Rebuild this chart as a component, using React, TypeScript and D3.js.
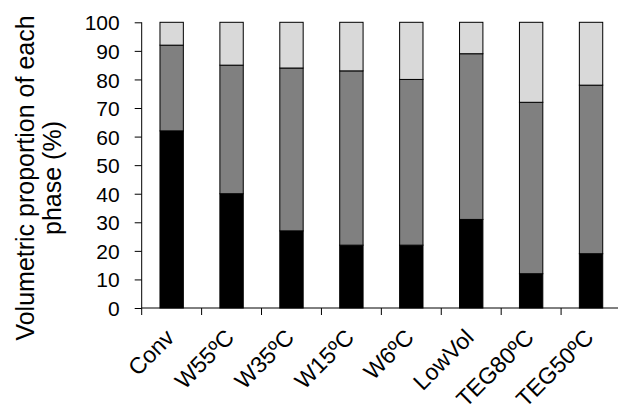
import React, { useEffect, useRef } from 'react';
import * as d3 from 'd3';

const categories = ['Conv', 'W55ºC', 'W35ºC', 'W15ºC', 'W6ºC', 'LowVol', 'TEG80ºC', 'TEG50ºC'];
// three phases, bottom to top (%)
const bottomPhase = [62, 40, 27, 22, 22, 31, 12, 19];
const middlePhase = [30, 45, 57, 61, 58, 58, 60, 59];
const topPhase = [8, 15, 16, 17, 20, 11, 28, 22];
const yTicks = [0, 10, 20, 30, 40, 50, 60, 70, 80, 90, 100];

const phaseColors = ['#000000', '#808080', '#d9d9d9'];

const App = () => {
  const svgRef = useRef<SVGSVGElement>(null);

  useEffect(() => {
    const width = 618;
    const height = 412;
    const left = 141.7;
    const top = 22.3;
    const bottom = 308;
    const right = 621;

    const svg = d3.select(svgRef.current);
    svg.selectAll('*').remove();
    svg.attr('width', width).attr('height', height);

    const x = d3.scaleBand().domain(categories).range([left, right]).padding(0);
    const y = d3.scaleLinear().domain([0, 100]).range([bottom, top]);

    const rows = categories.map((c, i) => ({ cat: c, b: bottomPhase[i], m: middlePhase[i], t: topPhase[i] }));
    const stack = d3.stack<any>().keys(['b', 'm', 't'])(rows);

    const barW = x.bandwidth() * 0.39;

    // stacked bars
    stack.forEach((layer, li) => {
      svg.append('g')
        .selectAll('rect')
        .data(layer)
        .enter()
        .append('rect')
        .attr('x', d => x(d.data.cat)! + (x.bandwidth() - barW) / 2)
        .attr('y', d => y(d[1]))
        .attr('width', barW)
        .attr('height', d => y(d[0]) - y(d[1]))
        .attr('fill', phaseColors[li])
        .attr('stroke', '#000')
        .attr('stroke-width', 1);
    });

    // Y axis
    const yAxis = svg.append('g')
      .attr('transform', `translate(${left},0)`)
      .call(d3.axisLeft(y).tickValues(yTicks).tickSize(7).tickPadding(15));
    yAxis.select('.domain').attr('stroke', '#000').attr('d', `M0,${top}V${bottom}`);
    yAxis.selectAll('text')
      .style('font-family', 'Arial, "Liberation Sans", sans-serif')
      .style('font-size', '21px')
      .attr('fill', '#000')
      .attr('dy', '0.36em');

    // X axis line with ticks at category boundaries
    const xg = svg.append('g');
    xg.append('line')
      .attr('x1', left).attr('x2', width)
      .attr('y1', bottom).attr('y2', bottom)
      .attr('stroke', '#000');
    const bounds = categories.map(c => x(c)!);
    xg.selectAll('.xtick')
      .data(bounds)
      .enter()
      .append('line')
      .attr('class', 'xtick')
      .attr('x1', d => d).attr('x2', d => d)
      .attr('y1', bottom).attr('y2', bottom + 7)
      .attr('stroke', '#000');

    // Category labels rotated
    xg.selectAll('.xlabel')
      .data(categories)
      .enter()
      .append('text')
      .attr('class', 'xlabel')
      .attr('transform', d => `translate(${x(d)! + x.bandwidth() / 2 + 4},${bottom + 31}) rotate(-45)`)
      .attr('text-anchor', 'end')
      .style('font-family', 'Arial, "Liberation Sans", sans-serif')
      .style('font-size', '23px')
      .attr('fill', '#000')
      .text(d => d);

    // Y axis title
    const title = svg.append('text')
      .attr('transform', `translate(34,178) rotate(-90)`)
      .attr('text-anchor', 'middle')
      .style('font-family', 'Arial, "Liberation Sans", sans-serif')
      .style('font-size', '25px')
      .attr('fill', '#000');
    title.append('tspan').attr('x', 0).attr('dy', 0).text('Volumetric proportion of each');
    title.append('tspan').attr('x', 0).attr('dy', 27).text('phase (%)');
  }, []);

  return (
    <div style={{ position: 'absolute', left: 0, top: 0, background: '#fff' }}>
      <svg ref={svgRef} style={{ display: 'block' }}></svg>
    </div>
  );
};

export default App;
